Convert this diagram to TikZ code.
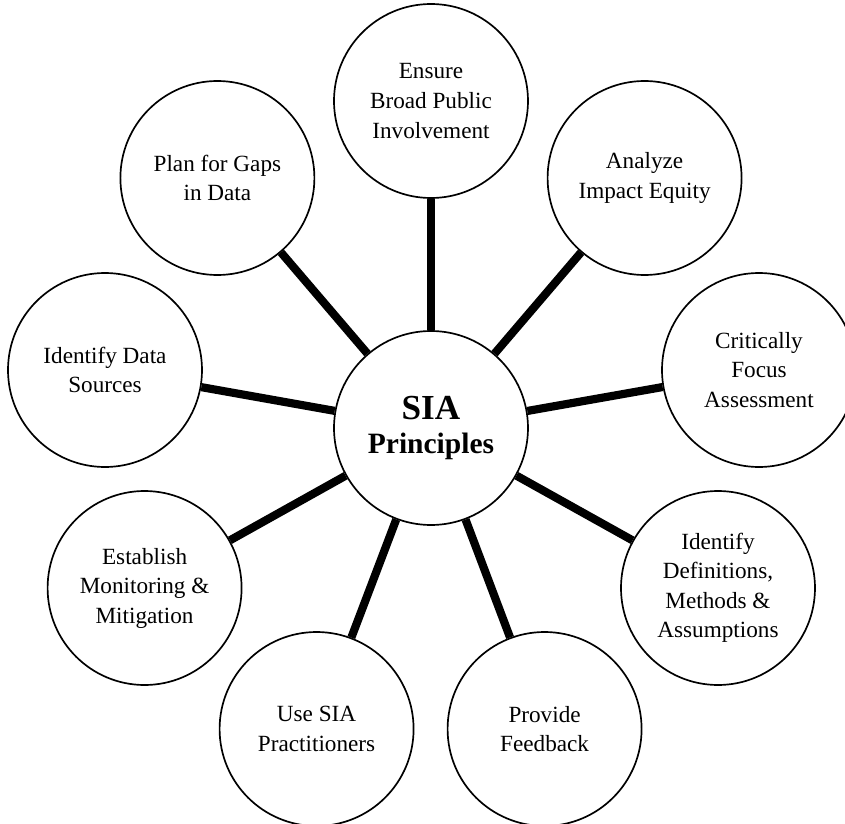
\documentclass[tikz,border=0pt]{standalone}
\usepackage{fontspec}
\setmainfont{Liberation Serif}
\usepackage{tikz}

\tikzset{
  principle/.style={circle, draw, line width=1.2pt, minimum size=4.85cm, inner sep=0pt,
    align=center, font=\fontsize{16.5}{21}\selectfont},
  hub/.style={principle, font=\bfseries\fontsize{25}{24}\selectfont},
  spoke/.style={line width=5.8pt}
}

\begin{document}
\begin{tikzpicture}
\useasboundingbox (-10.775,-9.875) rectangle (10.35,10.7);
\clip (-10.775,-9.875) rectangle (10.35,10.7);
% hub
\node[hub] (sia) at (0,0) {SIA\\{\fontsize{21}{24}\selectfont Principles}};
% principles round the hub
\node[principle] (ensure)   at (0,8.175)      {Ensure\\Broad Public\\Involvement};
\node[principle] (equity)   at (5.34,6.25)    {Analyze\\Impact Equity};
\node[principle] (focus)    at (8.2,1.45)     {Critically\\Focus\\Assessment};
\node[principle] (defs)     at (7.175,-4.0)   {Identify\\Definitions,\\Methods \&\\Assumptions};
\node[principle] (feedback) at (2.84,-7.525)  {Provide\\Feedback};
\node[principle] (practs)   at (-2.86,-7.525) {Use SIA\\Practitioners};
\node[principle] (monitor)  at (-7.16,-4.0)   {Establish\\Monitoring \&\\Mitigation};
\node[principle] (sources)  at (-8.15,1.45)   {Identify Data\\Sources};
\node[principle] (gaps)     at (-5.34,6.25)   {Plan for Gaps\\in Data};
% spokes
\foreach \p in {ensure,equity,focus,defs,feedback,practs,monitor,sources,gaps}
  \draw[spoke] (sia) -- (\p);
\end{tikzpicture}
\end{document}
